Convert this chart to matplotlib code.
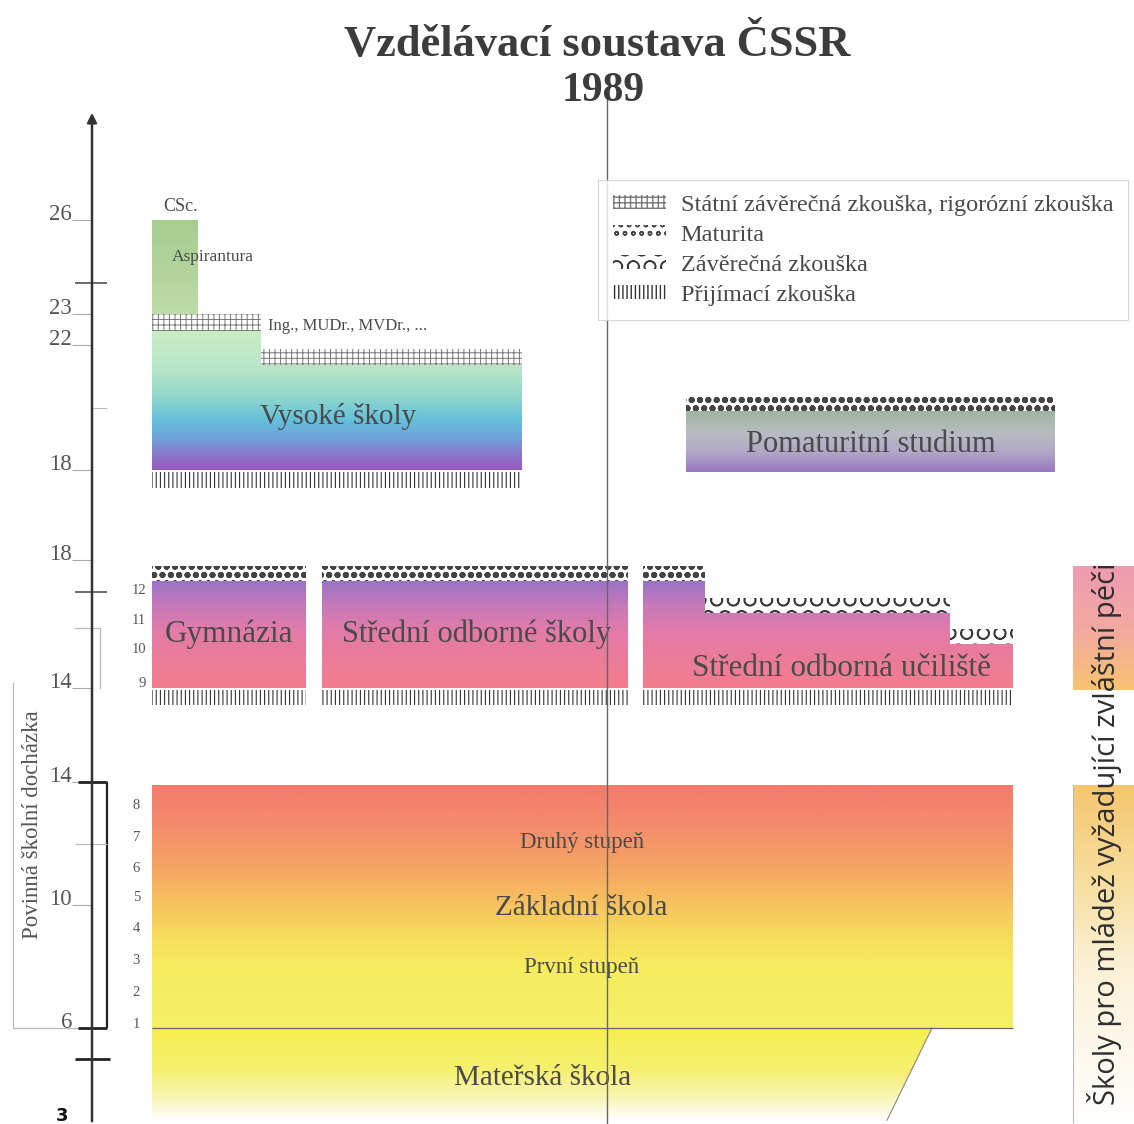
import numpy as np
import matplotlib.pyplot as plt
from matplotlib.colors import LinearSegmentedColormap
from matplotlib.patches import Polygon, Rectangle

plt.rcParams['font.family'] = ['Liberation Serif', 'DejaVu Serif']

W, H = 1134, 1124
TXT = '#4a4a4a'

# ---- data: ages in years ----
title = 'Vzdělávací soustava ČSSR'
year = '1989'

top_ticks = [26, 23, 22, 18]
mid_ticks = [18, 14]
low_ticks = [14, 10, 6]

# university level
asp_age = (23.0, 26.0)
vs_cols = [152, 261, 522]        # column edges
vs_top = [22.45, 21.35]          # end of study (long / short programmes)
vs_exam = [23.0, 21.87]          # end of state exam band
vs_start = 18.0
vs_adm = (17.42, 17.93)
pom_cols = (686, 1055)
pom_age = (17.94, 19.89, 20.37)  # start, end of study, end of maturita band

# secondary level
sec_start = 14.0
sec_adm = (13.47, 13.94)
gym_cols = (152, 306)
sos_cols = (322, 628)
sec_top = 17.34
sec_exam = 17.81
sou_cols = [643, 705, 950, 1013]
sou_top = [17.34, 16.34, 15.375]
sou_exam = [17.81, 16.81, 15.84]
sou_kind = ['mat', 'zav', 'zav']
sec_grades = ['12', '11', '10', '9']
sec_grade_age = [17.05, 16.1, 15.2, 14.15]

# basic level
zs_cols = (152, 1013)
zs_age = (6.0, 13.9)
zs_grades = ['8', '7', '6', '5', '4', '3', '2', '1']
zs_grade_age = [13.25, 12.18, 11.2, 10.26, 9.22, 8.21, 7.17, 6.1]
ms_age = (3.0, 6.0)
ms_right = (887, 932)            # right edge at age 3 / age 6
spec_cols = (1073, 1140)
spec_mid = (13.94, 17.81)
spec_low = (2.9, 13.9)

legend_labels = ['Státní závěrečná zkouška, rigorózní zkouška', 'Maturita',
                 'Závěrečná zkouška', 'Přijímací zkouška']

HATCH = {'state': ('+++', '#777777', 0.7), 'mat': ('oo', '#444444', 2.0),
         'zav': ('O', '#3a3a3a', 1.1), 'adm': ('||||', '#333333', 0.8)}

fig = plt.figure(figsize=(W / 100, H / 100), dpi=100)


def section(px_top, px_bot, age_hi, px_hi, age_lo, px_lo):
    k = (px_lo - px_hi) / (age_hi - age_lo)
    ax = fig.add_axes([0, 1 - px_bot / H, 1, (px_bot - px_top) / H])
    ax.set_xlim(0, W)
    ax.set_ylim(age_lo - (px_bot - px_lo) / k, age_hi + (px_hi - px_top) / k)
    ax.set_autoscale_on(False)
    ax.axis('off')
    return ax


def gfill(ax, verts, stops):
    poly = Polygon(verts, closed=True, fc='none', ec='none')
    ax.add_patch(poly)
    a0, a1 = stops[0][0], stops[-1][0]
    cmap = LinearSegmentedColormap.from_list(
        'g', [((a0 - a) / (a0 - a1), c) for a, c in stops])
    xs = [v[0] for v in verts]
    im = ax.imshow(np.linspace(0, 1, 256)[:, None], cmap=cmap, aspect='auto',
                   extent=(min(xs), max(xs), a1, a0), interpolation='bilinear',
                   zorder=1)
    im.set_clip_path(poly)


def make_patch(kind, xy, w, h):
    hatch, col, lw = HATCH[kind]
    p = Rectangle(xy, w, h, fc='white', ec=col, hatch=hatch, lw=0, zorder=2)
    if hasattr(p, 'set_hatch_linewidth'):
        p.set_hatch_linewidth(lw)
    return p


def band(ax, x0, x1, y0, y1, kind):
    ax.add_patch(make_patch(kind, (x0, y0), x1 - x0, y1 - y0))


def age_ticks(ax, ticks):
    ax.hlines(ticks, 72, 92, color='#aaaaaa', lw=0.8)
    for t in ticks:
        ax.text(72, t, str(t), ha='right', va='baseline', fontsize=16.5, color='#555555')


ax_top = section(100, 500, 26, 220, 18, 470)
ax_mid = section(500, 740, 18, 560, 14, 688)
ax_low = section(740, 1124, 14, 782, 6, 1028)

# ---- university ----
age_ticks(ax_top, top_ticks)
ax_top.hlines(24, 75, 107, color='#555555', lw=1.2)
ax_top.hlines(20, 92, 107, color='#bbbbbb', lw=0.8)
gfill(ax_top, [(vs_cols[0], asp_age[0]), (vs_cols[0], asp_age[1]),
               (198, asp_age[1]), (198, asp_age[0])],
      [(asp_age[1], '#a6cc8e'), (asp_age[0], '#bcdca8')])
gfill(ax_top, [(vs_cols[0], vs_start), (vs_cols[0], vs_top[0]), (vs_cols[1], vs_top[0]),
               (vs_cols[1], vs_top[1]), (vs_cols[2], vs_top[1]), (vs_cols[2], vs_start)],
      [(vs_top[0], '#cbedc4'), (21.2, '#b6e6c8'), (20.3, '#8fd6cc'), (19.6, '#66c0dc'),
       (19.0, '#6fa2d8'), (18.5, '#8a78cc'), (vs_start, '#9858bd')])
for i in range(2):
    band(ax_top, vs_cols[i], vs_cols[i + 1], vs_top[i], vs_exam[i], 'state')
band(ax_top, vs_cols[0], vs_cols[2], vs_adm[0], vs_adm[1], 'adm')
ax_top.text(163, 26.15, 'CSc.', fontsize=13, color=TXT, va='bottom')
ax_top.text(172, 24.82, 'Aspirantura', fontsize=12.5, color=TXT, va='center')
ax_top.text(268, 22.6, 'Ing., MUDr., MVDr., ...', fontsize=12, color=TXT, va='center')
ax_top.text(338, 19.7, 'Vysoké školy', fontsize=21, color=TXT, ha='center', va='center')

gfill(ax_top, [(pom_cols[0], pom_age[0]), (pom_cols[0], pom_age[1]),
               (pom_cols[1], pom_age[1]), (pom_cols[1], pom_age[0])],
      [(pom_age[1], '#9db59f'), (19.2, '#b7bcc2'), (18.6, '#b2a9c8'), (pom_age[0], '#9878c2')])
band(ax_top, pom_cols[0], pom_cols[1], pom_age[1], pom_age[2], 'mat')
ax_top.text(sum(pom_cols) / 2, 18.83, 'Pomaturitní studium', fontsize=22, color=TXT,
            ha='center', va='center')

# ---- secondary ----
age_ticks(ax_mid, mid_ticks)
ax_mid.hlines(17, 75, 107, color='#555555', lw=1.2)
sec_stops = [(sec_exam, '#9a6ec8'), (sec_top, '#9b72c6'), (16.6, '#c679ba'),
             (15.8, '#e27ba8'), (sec_start, '#f47d8c')]
for cols in (gym_cols, sos_cols):
    gfill(ax_mid, [(cols[0], sec_start), (cols[0], sec_top),
                   (cols[1], sec_top), (cols[1], sec_start)], sec_stops)
    band(ax_mid, cols[0], cols[1], sec_top, sec_exam, 'mat')
    band(ax_mid, cols[0], cols[1], sec_adm[0], sec_adm[1], 'adm')
verts = [(sou_cols[0], sec_start)]
for i in range(3):
    verts += [(sou_cols[i], sou_top[i]), (sou_cols[i + 1], sou_top[i])]
verts.append((sou_cols[3], sec_start))
gfill(ax_mid, verts, sec_stops)
for i in range(3):
    band(ax_mid, sou_cols[i], sou_cols[i + 1], sou_top[i], sou_exam[i], sou_kind[i])
band(ax_mid, sou_cols[0], sou_cols[3], sec_adm[0], sec_adm[1], 'adm')
for g, a in zip(sec_grades, sec_grade_age):
    ax_mid.text(146, a, g, fontsize=10.5, color='#555555', ha='right', va='center')
ax_mid.text(229, 15.69, 'Gymnázia', fontsize=22.5, color=TXT, ha='center', va='center')
ax_mid.text(342, 15.69, 'Střední odborné školy', fontsize=22, color=TXT, ha='left',
            va='center')
ax_mid.text(842, 14.62, 'Střední odborná učiliště', fontsize=22.5, color=TXT,
            ha='center', va='center')
gfill(ax_mid, [(spec_cols[0], spec_mid[0]), (spec_cols[0], spec_mid[1]),
               (spec_cols[1], spec_mid[1]), (spec_cols[1], spec_mid[0])],
      [(spec_mid[1], '#ef9bb2'), (15.8, '#f2a9a0'), (spec_mid[0], '#f8c470')])

# ---- basic school + kindergarten ----
age_ticks(ax_low, low_ticks)
ax_low.hlines([14, 6], 78, 107, color='#222222', lw=2)
ax_low.vlines(107, 6, 14, color='#222222', lw=1.6)
ax_low.hlines(5, 75, 110, color='#222222', lw=2)
ax_low.hlines(12, 75, 107, color='#bbbbbb', lw=0.8)
ax_low.text(68, 3.15, '3', fontsize=13, fontweight='bold', family='DejaVu Sans',
            ha='right', va='center', color='#111111')
gfill(ax_low, [(zs_cols[0], zs_age[0]), (zs_cols[0], zs_age[1]),
               (zs_cols[1], zs_age[1]), (zs_cols[1], zs_age[0])],
      [(zs_age[1], '#f47b6c'), (12.5, '#f48d6c'), (11.0, '#f6a962'), (10.0, '#f7c45e'),
       (9.0, '#f6dc5c'), (8.0, '#f6ec5e'), (zs_age[0], '#f5f066')])
ax_low.hlines(zs_age[0], zs_cols[0], zs_cols[1], color='#666666', lw=0.9, zorder=3)
gfill(ax_low, [(zs_cols[0], ms_age[0]), (zs_cols[0], ms_age[1]),
               (ms_right[1], ms_age[1]), (ms_right[0], ms_age[0])],
      [(ms_age[1], '#f5ee4e'), (4.6, '#f6f070'), (3.7, '#f9f6b6'), (ms_age[0], '#ffffff')])
ax_low.plot([ms_right[1], ms_right[0]], [ms_age[1], ms_age[0]], color='#888888', lw=0.8)
for g, a in zip(zs_grades, zs_grade_age):
    ax_low.text(140, a, g, fontsize=10.5, color='#555555', ha='right', va='center')
ax_low.text(582, 12.02, 'Druhý stupeň', fontsize=16.5, color=TXT, ha='center', va='center')
ax_low.text(581, 9.9, 'Základní škola', fontsize=21, color=TXT, ha='center', va='center')
ax_low.text(582, 7.98, 'První stupeň', fontsize=16.5, color=TXT, ha='center', va='center')
ax_low.text(543, 4.37, 'Mateřská škola', fontsize=21, color=TXT, ha='center', va='center')
gfill(ax_low, [(spec_cols[0], spec_low[0]), (spec_cols[0], spec_low[1]),
               (spec_cols[1], spec_low[1]), (spec_cols[1], spec_low[0])],
      [(spec_low[1], '#f5c66e'), (11.0, '#f7dc9a'), (8.0, '#fbf1d6'), (spec_low[0], '#ffffff')])
ax_low.vlines(spec_cols[0], spec_low[0], spec_low[1], color='#bbbbbb', lw=0.8)

# ---- overlay: title, axis, legend, vertical labels ----
fg = fig.add_axes([0, 0, 1, 1])
fg.set_xlim(0, W)
fg.set_ylim(H, 0)
fg.axis('off')
fg.text(597, 45, title, ha='center', va='center', fontsize=32, fontweight='bold',
        color='#3c3c3c')
fg.text(603, 91, year, ha='center', va='center', fontsize=30, fontweight='bold',
        color='#3c3c3c')
fg.annotate('', xy=(92, 110), xytext=(92, H),
            arrowprops=dict(arrowstyle='-|>', color='#333333', lw=1.8, mutation_scale=14))
fg.plot([607, 607], [96, H], color='#666666', lw=1)
fg.plot([13, 13, 75], [683, 1028, 1028], color='#bbbbbb', lw=0.9)
fg.plot([75, 100, 100], [628, 628, 688], color='#bbbbbb', lw=0.9)
fg.text(33, 825, 'Povinná školní docházka', rotation=90, ha='center', va='center',
        fontsize=16.5, color='#555555')
fg.text(1104, 834, 'Školy pro mládež vyžadující zvláštní péči', rotation=90,
        ha='center', va='center', fontsize=21, color='#2e2e2e', family='Open Sans')

handles = [make_patch(k, (0, 0), 1, 1) for k in ('state', 'mat', 'zav', 'adm')]
leg = fg.legend(handles, legend_labels, loc='upper left', bbox_to_anchor=(598, 180),
                bbox_transform=fg.transData, fontsize=17.5, frameon=True, fancybox=False,
                borderaxespad=0, handlelength=2.2, handleheight=0.5,
                handletextpad=0.6, labelspacing=0.37, borderpad=0.6)
leg.get_frame().set_edgecolor('#cccccc')
leg.get_frame().set_linewidth(0.8)
for t in leg.get_texts():
    t.set_color(TXT)

fig.savefig('out.png', dpi=100, facecolor='white')
